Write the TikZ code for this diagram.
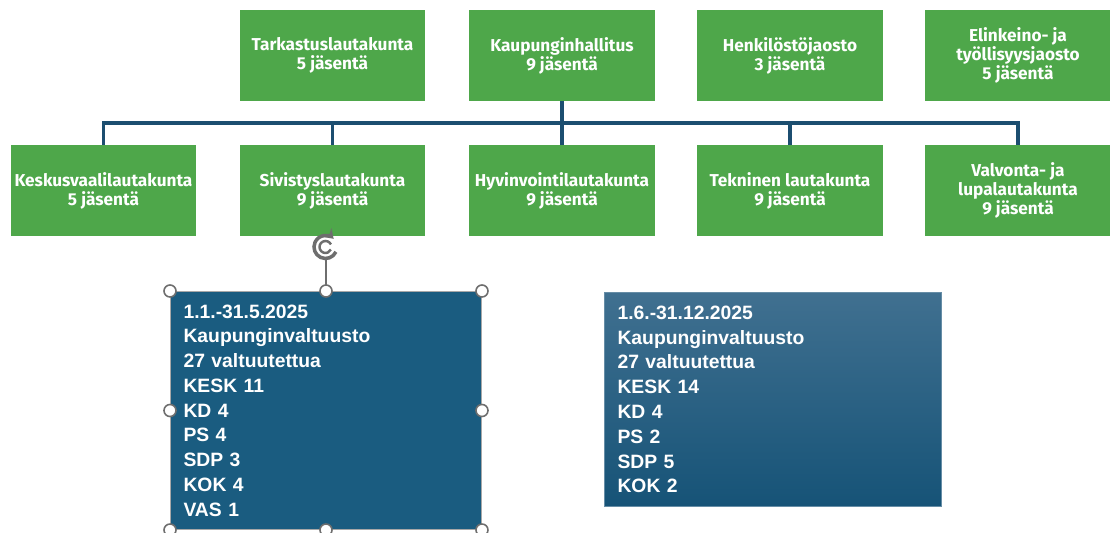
\documentclass[tikz,border=0pt]{standalone}
\usepackage{fontspec}
\usetikzlibrary{arrows.meta}
\setmainfont{Fira Sans}
\newfontfamily\partyfont{Liberation Sans}
\definecolor{boardgreen}{RGB}{78,167,74}
\definecolor{linkblue}{RGB}{28,78,112}
\definecolor{councilblue}{RGB}{26,92,128}
\definecolor{gradtop}{RGB}{64,112,144}
\definecolor{gradbottom}{RGB}{22,83,119}
\definecolor{handlegray}{RGB}{110,110,110}
\begin{document}
\begin{tikzpicture}[
        x=0.02cm, y=-0.02cm,
        board/.style={rectangle, fill=boardgreen, text=white, minimum width=3.72cm, minimum height=1.82cm, inner sep=0pt, align=center, font=\fontsize{9.8pt}{10.8pt}\selectfont\bfseries},
        council/.style={rectangle, text=white, anchor=north west, inner xsep=0.26cm, inner ysep=0pt, align=left, font=\partyfont\fontsize{11pt}{14.1pt}\selectfont\bfseries},
        link/.style={draw=linkblue, line width=2pt},
        handle/.style={circle, draw=handlegray, fill=white, line width=0.9pt, inner sep=0pt, minimum size=0.24cm}
    ]
        \useasboundingbox (0,0) rectangle (1110,533);

        % Top row
        \node[board] (tl) at (332.5,55.5) {Tarkastuslautakunta\\5 jäsentä};
        \node[board] (kh) at (562,55.5) {Kaupunginhallitus\\9 jäsentä};
        \node[board] (hj) at (790,55.5) {Henkilöstöjaosto\\3 jäsentä};
        \node[board] (et) at (1018,55.5) {Elinkeino- ja\\työllisyysjaosto\\5 jäsentä};

        % Second row
        \node[board] (kv) at (103.5,190.5) {Keskusvaalilautakunta\\5 jäsentä};
        \node[board] (sl) at (332.5,190.5) {Sivistyslautakunta\\9 jäsentä};
        \node[board] (hv) at (562,190.5) {Hyvinvointilautakunta\\9 jäsentä};
        \node[board] (tk) at (790,190.5) {Tekninen lautakunta\\9 jäsentä};
        \node[board] (vl) at (1018,190.5) {Valvonta- ja\\lupalautakunta\\9 jäsentä};

        % Connections
        \coordinate (bus) at (562,123);
        \draw[link] (kh.south) -- (bus);
        \draw[link] (kv.north) -- (kv.north |- bus) -| (vl.north);
        \draw[link] (sl.north) -- (sl.north |- bus);
        \draw[link] (hv.north) -- (hv.north |- bus);
        \draw[link] (tk.north) -- (tk.north |- bus);

        % Council, first half of the year (selected)
        \node[council, fill=councilblue, draw=handlegray!60, line width=0.6pt, minimum width=6.22cm, minimum height=4.76cm, text width=5.70cm] (kv1) at (170,291)
            {1.1.-31.5.2025\\Kaupunginvaltuusto\\27 valtuutettua\\KESK 11\\KD 4\\PS 4\\SDP 3\\KOK 4\\VAS 1};

        % Council, second half of the year
        \node[council, top color=gradtop, bottom color=gradbottom, draw=gradtop!80!white, line width=0.6pt, minimum width=6.74cm, minimum height=4.28cm, text width=6.22cm] (kv2) at (604,292)
            {1.6.-31.12.2025\\Kaupunginvaltuusto\\27 valtuutettua\\KESK 14\\KD 4\\PS 2\\SDP 5\\KOK 2};

        % Selection handles
        \coordinate (rot) at (325.5,247);
        \draw[handlegray, line width=0.6pt] (kv1.north) -- ++(0,-32);
        \draw[handlegray, line width=2pt, -{Stealth[length=0.18cm, width=0.24cm]}] (rot) ++(-25:0.23cm) arc (-25:-315:0.23cm);
        \draw[handlegray, line width=1.4pt] (rot) ++(25:0.12cm) arc (25:335:0.12cm);
        \foreach \a in {north west, north, north east, west, east, south west, south, south east}
            \node[handle] at (kv1.\a) {};
    \end{tikzpicture}
\end{document}
